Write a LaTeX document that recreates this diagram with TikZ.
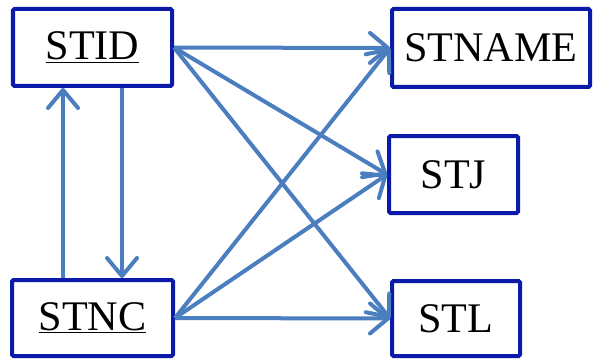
\documentclass[tikz,border=0pt]{standalone}
\usepackage{fontspec}
\setmainfont{Liberation Serif}
\usetikzlibrary{arrows.meta}
\definecolor{boxblue}{RGB}{12,26,170}
\definecolor{arrblue}{RGB}{74,126,191}
\tikzset{
  attr/.style={draw=boxblue, line width=0.1cm, rounded corners=1pt, fill=white,
    inner sep=0pt, font=\fontsize{30}{36}\selectfont},
  dep/.style={draw=arrblue, line width=0.1cm,
    -{Straight Barb[length=0.45cm, width=0.75cm, line cap=round, line join=round]}}
}
\begin{document}
\begin{tikzpicture}
    \useasboundingbox (0,0) rectangle (14.9,9);

    \node[attr, minimum width=3.975cm, minimum height=1.925cm] (stid) at (2.3125, 7.8125) {\underline{STID}};
    \node[attr, minimum width=4.025cm, minimum height=1.9cm] (stnc) at (2.3125, 1.05) {\underline{STNC}};
    \node[attr, minimum width=4.95cm, minimum height=1.95cm] (stname) at (12.275, 7.8) {STNAME};
    \node[attr, minimum width=3.225cm, minimum height=1.925cm] (stj) at (11.3375, 4.6375) {STJ};
    \node[attr, minimum width=3.2cm, minimum height=1.875cm] (stl) at (11.4, 1.0375) {STL};

    % between the two keys
    \draw[dep] (stnc.north -| 1.575,0) -- (stid.south -| 1.575,0);
    \draw[dep] (stid.south -| 3.05,0) -- (stnc.north -| 3.05,0);

    \draw[dep] (stid.east) -- (stname.west);
    \draw[dep] (stid.east) -- (stj.west);
    \draw[dep] (stid.east) -- (stl.west);
    \draw[dep] (stnc.east) -- (stname.west);
    \draw[dep] (stnc.east) -- (stj.west);
    \draw[dep] (stnc.east) -- (stl.west);
\end{tikzpicture}
\end{document}
